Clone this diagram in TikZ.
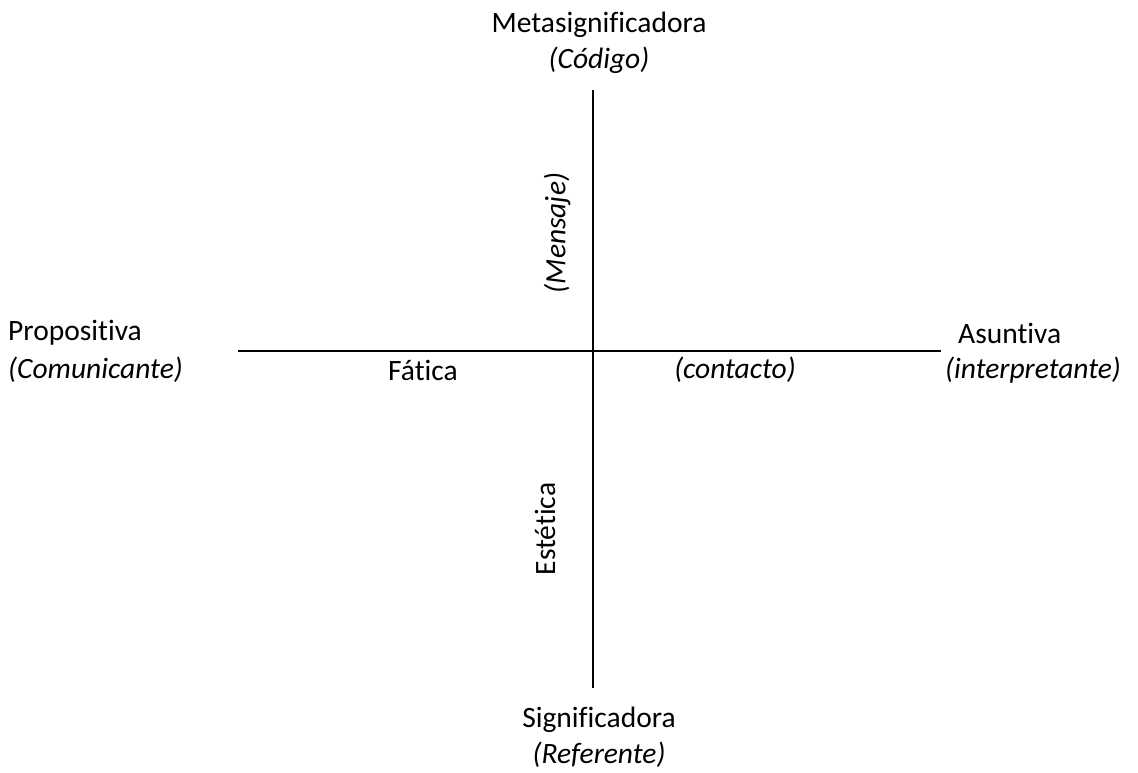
\documentclass[tikz,border=0pt]{standalone}
\usepackage{fontspec}
\setmainfont{Carlito}[Ligatures={NoCommon}]
\begin{document}
\begin{tikzpicture}[x=1pt,y=-1pt,
  lbl/.style={inner sep=0pt,font=\fontsize{29.5}{34}\selectfont},
  axis/.style={line width=1.6pt,black}]
\useasboundingbox (0,0) rectangle (1138,773);
\coordinate (top) at (593,90);
\coordinate (bot) at (593,688);
\coordinate (lft) at (238,351);
\coordinate (rgt) at (941,351);
\draw[axis] (top) -- (bot);
\draw[axis] (lft) -- (rgt);
\node[lbl] (meta) at (599,25) {Metasignificadora};
\node[lbl] (cod) at (599,60) {\itshape (Código)};
\node[lbl,anchor=west] (prop) at (8,333) {Propositiva};
\node[lbl,anchor=west] (com) at (8,370) {\itshape (Comunicante)};
\node[lbl] (fat) at (423,370) {Fática};
\node[lbl] (cont) at (735,370) {\itshape (contacto)};
\node[lbl,anchor=west] (asun) at (958,333) {Asuntiva};
\node[lbl,anchor=west] (interp) at (945,370) {\itshape (interpretante)};
\node[lbl,rotate=90] (mens) at (557,233) {\itshape (Mensaje)};
\node[lbl,rotate=90] (est) at (545,529) {Estética};
\node[lbl] (sig) at (599,720) {Significadora};
\node[lbl] (ref) at (599,755) {\itshape (Referente)};
\end{tikzpicture}
\end{document}
